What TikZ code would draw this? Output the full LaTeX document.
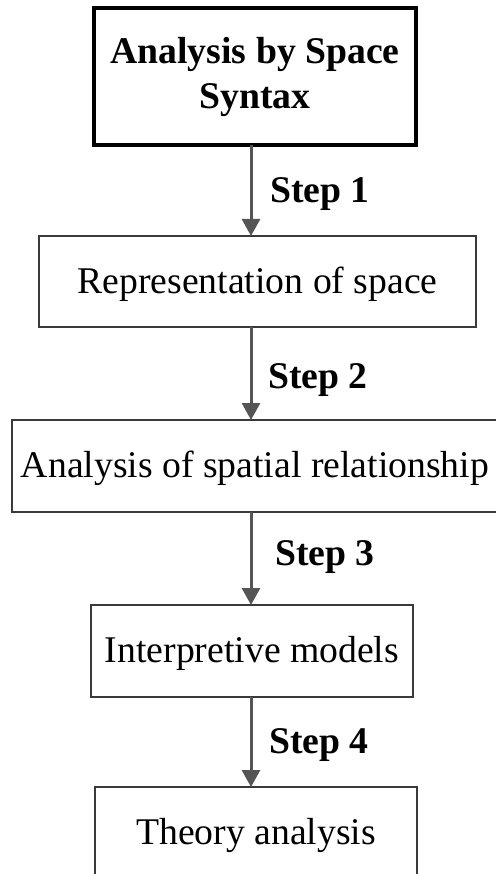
\documentclass[tikz,border=0pt]{standalone}
\usepackage{fontspec}
\setmainfont{Liberation Serif}
\usetikzlibrary{arrows.meta}
\definecolor{arrowgray}{HTML}{555555}
\definecolor{boxline}{HTML}{3A3A3A}
\tikzset{
  bigfont/.style={font=\fontsize{37.7}{45}\selectfont},
  stepbox/.style={draw=boxline, line width=1.6pt, inner sep=0pt, outer sep=0pt,
    bigfont, text height=26pt, text depth=3pt, anchor=center},
  headbox/.style={draw=black, line width=4pt, inner sep=0pt, outer sep=0pt,
    bigfont, align=center, anchor=center},
  steplabel/.style={font=\fontsize{37.7}{45}\selectfont\bfseries, anchor=base west, inner sep=0pt},
  flowarrow/.style={draw=arrowgray, line width=3pt,
    -{Triangle[width=18pt,length=17pt]}, arrowgray},
}
\begin{document}
\begin{tikzpicture}[x=1pt,y=-1pt]
\useasboundingbox (0,0) rectangle (495,874);
\node[headbox, minimum width=322pt, minimum height=137pt] (b1) at (255,76.5)
  {\bfseries Analysis by Space\\\bfseries Syntax};
\node[stepbox, minimum width=437pt, minimum height=91pt] (b2) at (257.5,281.5)
  {Representation of space};
\node[stepbox, minimum width=486pt, minimum height=92pt] (b3) at (255,466)
  {Analysis of spatial relationship};
\node[stepbox, minimum width=322pt, minimum height=92pt] (b4) at (252,651)
  {Interpretive models};
\node[stepbox, minimum width=322pt, minimum height=92pt] (b5) at (256,833)
  {Theory analysis};
\coordinate (ax) at (251,0);
\draw[flowarrow] (b1.south -| ax) -- (b2.north -| ax);
\draw[flowarrow] (b2.south -| ax) -- (b3.north -| ax);
\draw[flowarrow] (b3.south -| ax) -- (b4.north -| ax);
\draw[flowarrow] (b4.south -| ax) -- (b5.north -| ax);
\node[steplabel] (s1) at (270,203) {Step 1};
\node[steplabel] (s2) at (268,388) {Step 2};
\node[steplabel] (s3) at (275,565) {Step 3};
\node[steplabel] (s4) at (269,753) {Step 4};
\end{tikzpicture}
\end{document}
